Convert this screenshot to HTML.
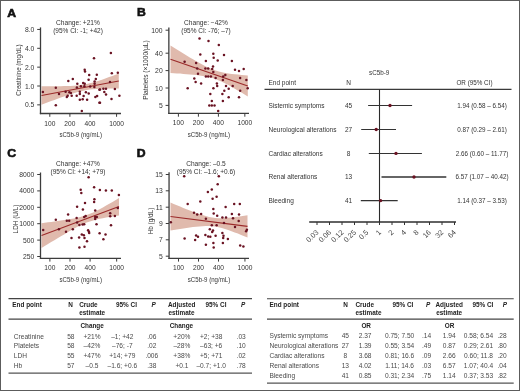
<!DOCTYPE html>
<html><head><meta charset="utf-8"><style>
html,body{margin:0;padding:0;background:#fff;width:520px;height:391px;overflow:hidden}
svg{display:block;will-change:transform;font-family:"Liberation Sans", sans-serif}
</style></head><body>
<svg width="520" height="391" viewBox="0 0 520 391" font-family='"Liberation Sans", sans-serif'>
<rect width="520" height="391" fill="#fff"/>
<text transform="translate(7.20,16.50) scale(1.08,1)" font-size="11.3" text-anchor="start" font-weight="bold" fill="#111" stroke="#111" stroke-width="0.6">A</text>
<polygon points="41.5,86.3 44.7,86.3 47.9,86.3 51.2,86.3 54.4,86.3 57.6,86.2 60.8,86.2 64.0,86.1 67.3,86.0 70.5,85.9 73.7,85.7 76.9,85.4 80.2,85.1 83.4,84.6 86.6,84.0 89.8,83.3 93.0,82.4 96.3,81.5 99.5,80.5 102.7,79.4 105.9,78.3 109.1,77.1 112.4,76.0 115.6,74.8 118.8,73.6 118.8,88.4 115.6,88.4 112.4,88.4 109.1,88.5 105.9,88.6 102.7,88.7 99.5,88.8 96.3,89.0 93.0,89.2 89.8,89.6 86.6,90.1 83.4,90.7 80.2,91.4 76.9,92.3 73.7,93.2 70.5,94.2 67.3,95.3 64.0,96.4 60.8,97.6 57.6,98.7 54.4,99.9 51.2,101.1 47.9,102.3 44.7,103.5 41.5,104.7" fill="#e0baad"/>
<line x1="41.5" y1="95.5" x2="118.8" y2="81" stroke="#9b2a2a" stroke-width="1.1"/>
<circle cx="110.9" cy="53.0" r="1.25" fill="#6a1222"/>
<circle cx="94.0" cy="58.3" r="1.25" fill="#6a1222"/>
<circle cx="84.7" cy="69.8" r="1.25" fill="#6a1222"/>
<circle cx="85.0" cy="71.5" r="1.25" fill="#6a1222"/>
<circle cx="89.2" cy="75.0" r="1.25" fill="#6a1222"/>
<circle cx="96.8" cy="74.8" r="1.25" fill="#6a1222"/>
<circle cx="111.8" cy="73.2" r="1.25" fill="#6a1222"/>
<circle cx="117.8" cy="72.8" r="1.25" fill="#6a1222"/>
<circle cx="72.8" cy="79.0" r="1.25" fill="#6a1222"/>
<circle cx="68.3" cy="81.1" r="1.25" fill="#6a1222"/>
<circle cx="88.6" cy="79.8" r="1.25" fill="#6a1222"/>
<circle cx="95.8" cy="79.0" r="1.25" fill="#6a1222"/>
<circle cx="94.6" cy="81.4" r="1.25" fill="#6a1222"/>
<circle cx="77.3" cy="83.7" r="1.25" fill="#6a1222"/>
<circle cx="83.2" cy="82.9" r="1.25" fill="#6a1222"/>
<circle cx="84.7" cy="83.7" r="1.25" fill="#6a1222"/>
<circle cx="94.6" cy="83.7" r="1.25" fill="#6a1222"/>
<circle cx="110.0" cy="82.0" r="1.25" fill="#6a1222"/>
<circle cx="42.9" cy="92.1" r="1.25" fill="#6a1222"/>
<circle cx="55.8" cy="87.7" r="1.25" fill="#6a1222"/>
<circle cx="59.0" cy="94.0" r="1.25" fill="#6a1222"/>
<circle cx="55.8" cy="105.2" r="1.25" fill="#6a1222"/>
<circle cx="66.8" cy="96.9" r="1.25" fill="#6a1222"/>
<circle cx="67.7" cy="95.8" r="1.25" fill="#6a1222"/>
<circle cx="65.6" cy="91.7" r="1.25" fill="#6a1222"/>
<circle cx="69.4" cy="92.3" r="1.25" fill="#6a1222"/>
<circle cx="70.9" cy="92.9" r="1.25" fill="#6a1222"/>
<circle cx="71.7" cy="95.8" r="1.25" fill="#6a1222"/>
<circle cx="76.9" cy="87.5" r="1.25" fill="#6a1222"/>
<circle cx="76.7" cy="95.8" r="1.25" fill="#6a1222"/>
<circle cx="80.9" cy="86.3" r="1.25" fill="#6a1222"/>
<circle cx="79.8" cy="91.7" r="1.25" fill="#6a1222"/>
<circle cx="79.8" cy="94.0" r="1.25" fill="#6a1222"/>
<circle cx="84.4" cy="86.3" r="1.25" fill="#6a1222"/>
<circle cx="83.6" cy="96.0" r="1.25" fill="#6a1222"/>
<circle cx="79.8" cy="99.8" r="1.25" fill="#6a1222"/>
<circle cx="82.7" cy="99.2" r="1.25" fill="#6a1222"/>
<circle cx="85.9" cy="92.3" r="1.25" fill="#6a1222"/>
<circle cx="87.1" cy="99.8" r="1.25" fill="#6a1222"/>
<circle cx="88.7" cy="93.5" r="1.25" fill="#6a1222"/>
<circle cx="90.2" cy="86.5" r="1.25" fill="#6a1222"/>
<circle cx="94.4" cy="87.1" r="1.25" fill="#6a1222"/>
<circle cx="95.4" cy="96.9" r="1.25" fill="#6a1222"/>
<circle cx="97.1" cy="96.0" r="1.25" fill="#6a1222"/>
<circle cx="99.4" cy="89.8" r="1.25" fill="#6a1222"/>
<circle cx="99.4" cy="102.7" r="1.25" fill="#6a1222"/>
<circle cx="81.8" cy="111.0" r="1.25" fill="#6a1222"/>
<circle cx="100.0" cy="89.6" r="1.25" fill="#6a1222"/>
<circle cx="103.4" cy="88.7" r="1.25" fill="#6a1222"/>
<circle cx="106.0" cy="88.7" r="1.25" fill="#6a1222"/>
<circle cx="104.3" cy="92.1" r="1.25" fill="#6a1222"/>
<circle cx="106.0" cy="94.4" r="1.25" fill="#6a1222"/>
<circle cx="114.9" cy="88.9" r="1.25" fill="#6a1222"/>
<circle cx="111.5" cy="98.9" r="1.25" fill="#6a1222"/>
<circle cx="119.4" cy="95.7" r="1.25" fill="#6a1222"/>
<circle cx="100.0" cy="102.7" r="1.25" fill="#6a1222"/>
<line x1="40.5" y1="27.4" x2="40.5" y2="114.15" stroke="#3c3c3c" stroke-width="1.3"/>
<line x1="39.85" y1="113.5" x2="121" y2="113.5" stroke="#3c3c3c" stroke-width="1.3"/>
<line x1="37.2" y1="29.45" x2="40.5" y2="29.45" stroke="#3c3c3c" stroke-width="1.0"/>
<text transform="translate(34.30,31.95) scale(0.97,1)" font-size="7.0" text-anchor="end" font-weight="normal" fill="#333" >8.0</text>
<line x1="37.2" y1="48.3" x2="40.5" y2="48.3" stroke="#3c3c3c" stroke-width="1.0"/>
<text transform="translate(34.30,50.80) scale(0.97,1)" font-size="7.0" text-anchor="end" font-weight="normal" fill="#333" >4.0</text>
<line x1="37.2" y1="67.15" x2="40.5" y2="67.15" stroke="#3c3c3c" stroke-width="1.0"/>
<text transform="translate(34.30,69.65) scale(0.97,1)" font-size="7.0" text-anchor="end" font-weight="normal" fill="#333" >2.0</text>
<line x1="37.2" y1="86" x2="40.5" y2="86" stroke="#3c3c3c" stroke-width="1.0"/>
<text transform="translate(34.30,88.50) scale(0.97,1)" font-size="7.0" text-anchor="end" font-weight="normal" fill="#333" >1.0</text>
<line x1="37.2" y1="104.85" x2="40.5" y2="104.85" stroke="#3c3c3c" stroke-width="1.0"/>
<text transform="translate(34.30,107.35) scale(0.97,1)" font-size="7.0" text-anchor="end" font-weight="normal" fill="#333" >0.5</text>
<line x1="49.8" y1="113.5" x2="49.8" y2="116.8" stroke="#3c3c3c" stroke-width="1.0"/>
<text transform="translate(49.80,125.50) scale(0.95,1)" font-size="7.0" text-anchor="middle" font-weight="normal" fill="#333" >100</text>
<line x1="69.9" y1="113.5" x2="69.9" y2="116.8" stroke="#3c3c3c" stroke-width="1.0"/>
<text transform="translate(69.90,125.50) scale(0.95,1)" font-size="7.0" text-anchor="middle" font-weight="normal" fill="#333" >200</text>
<line x1="90.0" y1="113.5" x2="90.0" y2="116.8" stroke="#3c3c3c" stroke-width="1.0"/>
<text transform="translate(90.00,125.50) scale(0.95,1)" font-size="7.0" text-anchor="middle" font-weight="normal" fill="#333" >400</text>
<line x1="116.57075470723598" y1="113.5" x2="116.57075470723598" y2="116.8" stroke="#3c3c3c" stroke-width="1.0"/>
<text transform="translate(116.57,125.50) scale(0.95,1)" font-size="7.0" text-anchor="middle" font-weight="normal" fill="#333" >1000</text>
<text transform="translate(80.75,137.20) scale(0.9,1)" font-size="6.8" text-anchor="middle" font-weight="normal" fill="#333" >sC5b-9 (ng/mL)</text>
<text transform="translate(20.6,70) rotate(-90) scale(0.9,1)" x="0" y="0" font-size="6.9" text-anchor="middle" fill="#333">Creatinine (mg/dL)</text>
<text x="78" y="25.4" font-size="6.6" text-anchor="middle" font-weight="normal" fill="#333" >Change: +21%</text>
<text x="78" y="33.4" font-size="6.5" text-anchor="middle" font-weight="normal" fill="#333" >(95% CI: -1; +42)</text>
<text transform="translate(137.00,16.30) scale(1.08,1)" font-size="11.3" text-anchor="start" font-weight="bold" fill="#111" stroke="#111" stroke-width="0.6">B</text>
<polygon points="170.5,45.5 173.7,47.5 176.9,49.5 180.2,51.5 183.4,53.4 186.6,55.4 189.8,57.4 193.0,59.3 196.3,61.2 199.5,63.0 202.7,64.8 205.9,66.4 209.2,68.0 212.4,69.3 215.6,70.5 218.8,71.5 222.0,72.3 225.3,72.9 228.5,73.5 231.7,73.9 234.9,74.3 238.1,74.6 241.4,74.9 244.6,75.2 247.8,75.5 247.8,96.5 244.6,94.6 241.4,92.6 238.1,90.7 234.9,88.8 231.7,86.9 228.5,85.1 225.3,83.4 222.0,81.8 218.8,80.4 215.6,79.1 212.4,78.1 209.2,77.2 205.9,76.5 202.7,76.0 199.5,75.5 196.3,75.1 193.0,74.8 189.8,74.4 186.6,74.2 183.4,73.9 180.2,73.6 176.9,73.4 173.7,73.2 170.5,72.9" fill="#e0baad"/>
<line x1="170.5" y1="59.2" x2="247.8" y2="86" stroke="#9b2a2a" stroke-width="1.1"/>
<circle cx="199.5" cy="38.5" r="1.25" fill="#6a1222"/>
<circle cx="208.5" cy="40.9" r="1.25" fill="#6a1222"/>
<circle cx="218.8" cy="45.1" r="1.25" fill="#6a1222"/>
<circle cx="200.3" cy="54.6" r="1.25" fill="#6a1222"/>
<circle cx="213.3" cy="53.8" r="1.25" fill="#6a1222"/>
<circle cx="213.7" cy="57.8" r="1.25" fill="#6a1222"/>
<circle cx="224.0" cy="54.9" r="1.25" fill="#6a1222"/>
<circle cx="205.9" cy="60.9" r="1.25" fill="#6a1222"/>
<circle cx="217.7" cy="60.6" r="1.25" fill="#6a1222"/>
<circle cx="231.9" cy="60.9" r="1.25" fill="#6a1222"/>
<circle cx="184.6" cy="61.7" r="1.25" fill="#6a1222"/>
<circle cx="196.1" cy="63.0" r="1.25" fill="#6a1222"/>
<circle cx="213.0" cy="66.4" r="1.25" fill="#6a1222"/>
<circle cx="197.2" cy="68.5" r="1.25" fill="#6a1222"/>
<circle cx="205.4" cy="68.5" r="1.25" fill="#6a1222"/>
<circle cx="208.2" cy="68.5" r="1.25" fill="#6a1222"/>
<circle cx="212.2" cy="68.9" r="1.25" fill="#6a1222"/>
<circle cx="235.0" cy="69.7" r="1.25" fill="#6a1222"/>
<circle cx="239.0" cy="71.0" r="1.25" fill="#6a1222"/>
<circle cx="243.7" cy="68.9" r="1.25" fill="#6a1222"/>
<circle cx="198.0" cy="73.7" r="1.25" fill="#6a1222"/>
<circle cx="213.3" cy="72.1" r="1.25" fill="#6a1222"/>
<circle cx="205.9" cy="76.5" r="1.25" fill="#6a1222"/>
<circle cx="208.2" cy="76.5" r="1.25" fill="#6a1222"/>
<circle cx="210.9" cy="76.5" r="1.25" fill="#6a1222"/>
<circle cx="215.6" cy="78.1" r="1.25" fill="#6a1222"/>
<circle cx="223.2" cy="76.5" r="1.25" fill="#6a1222"/>
<circle cx="225.3" cy="74.9" r="1.25" fill="#6a1222"/>
<circle cx="222.9" cy="80.0" r="1.25" fill="#6a1222"/>
<circle cx="240.1" cy="78.1" r="1.25" fill="#6a1222"/>
<circle cx="246.4" cy="80.0" r="1.25" fill="#6a1222"/>
<circle cx="194.3" cy="78.4" r="1.25" fill="#6a1222"/>
<circle cx="195.6" cy="81.9" r="1.25" fill="#6a1222"/>
<circle cx="201.1" cy="83.6" r="1.25" fill="#6a1222"/>
<circle cx="187.7" cy="88.2" r="1.25" fill="#6a1222"/>
<circle cx="216.9" cy="83.6" r="1.25" fill="#6a1222"/>
<circle cx="217.2" cy="86.0" r="1.25" fill="#6a1222"/>
<circle cx="226.0" cy="86.0" r="1.25" fill="#6a1222"/>
<circle cx="232.7" cy="86.0" r="1.25" fill="#6a1222"/>
<circle cx="213.4" cy="88.3" r="1.25" fill="#6a1222"/>
<circle cx="228.7" cy="88.7" r="1.25" fill="#6a1222"/>
<circle cx="224.3" cy="90.7" r="1.25" fill="#6a1222"/>
<circle cx="247.7" cy="88.3" r="1.25" fill="#6a1222"/>
<circle cx="240.2" cy="90.7" r="1.25" fill="#6a1222"/>
<circle cx="210.3" cy="93.9" r="1.25" fill="#6a1222"/>
<circle cx="222.4" cy="93.9" r="1.25" fill="#6a1222"/>
<circle cx="228.7" cy="97.3" r="1.25" fill="#6a1222"/>
<circle cx="239.0" cy="97.3" r="1.25" fill="#6a1222"/>
<circle cx="211.8" cy="101.0" r="1.25" fill="#6a1222"/>
<circle cx="222.9" cy="101.0" r="1.25" fill="#6a1222"/>
<circle cx="209.3" cy="105.5" r="1.25" fill="#6a1222"/>
<circle cx="211.8" cy="105.5" r="1.25" fill="#6a1222"/>
<circle cx="214.5" cy="105.5" r="1.25" fill="#6a1222"/>
<circle cx="218.2" cy="111.0" r="1.25" fill="#6a1222"/>
<line x1="168.85" y1="27.6" x2="168.85" y2="114.05000000000001" stroke="#3c3c3c" stroke-width="1.3"/>
<line x1="168.2" y1="113.4" x2="249" y2="113.4" stroke="#3c3c3c" stroke-width="1.3"/>
<line x1="165.54999999999998" y1="30.2" x2="168.85" y2="30.2" stroke="#3c3c3c" stroke-width="1.0"/>
<text transform="translate(162.65,32.70) scale(0.97,1)" font-size="7.0" text-anchor="end" font-weight="normal" fill="#333" >100</text>
<line x1="165.54999999999998" y1="53.2" x2="168.85" y2="53.2" stroke="#3c3c3c" stroke-width="1.0"/>
<text transform="translate(162.65,55.70) scale(0.97,1)" font-size="7.0" text-anchor="end" font-weight="normal" fill="#333" >40</text>
<line x1="165.54999999999998" y1="70.6" x2="168.85" y2="70.6" stroke="#3c3c3c" stroke-width="1.0"/>
<text transform="translate(162.65,73.10) scale(0.97,1)" font-size="7.0" text-anchor="end" font-weight="normal" fill="#333" >20</text>
<line x1="165.54999999999998" y1="88" x2="168.85" y2="88" stroke="#3c3c3c" stroke-width="1.0"/>
<text transform="translate(162.65,90.50) scale(0.97,1)" font-size="7.0" text-anchor="end" font-weight="normal" fill="#333" >10</text>
<line x1="165.54999999999998" y1="105.4" x2="168.85" y2="105.4" stroke="#3c3c3c" stroke-width="1.0"/>
<text transform="translate(162.65,107.90) scale(0.97,1)" font-size="7.0" text-anchor="end" font-weight="normal" fill="#333" >5</text>
<line x1="178.4" y1="113.4" x2="178.4" y2="116.7" stroke="#3c3c3c" stroke-width="1.0"/>
<text transform="translate(178.40,125.40) scale(0.95,1)" font-size="7.0" text-anchor="middle" font-weight="normal" fill="#333" >100</text>
<line x1="198.4" y1="113.4" x2="198.4" y2="116.7" stroke="#3c3c3c" stroke-width="1.0"/>
<text transform="translate(198.40,125.40) scale(0.95,1)" font-size="7.0" text-anchor="middle" font-weight="normal" fill="#333" >200</text>
<line x1="218.4" y1="113.4" x2="218.4" y2="116.7" stroke="#3c3c3c" stroke-width="1.0"/>
<text transform="translate(218.40,125.40) scale(0.95,1)" font-size="7.0" text-anchor="middle" font-weight="normal" fill="#333" >400</text>
<line x1="244.83856189774724" y1="113.4" x2="244.83856189774724" y2="116.7" stroke="#3c3c3c" stroke-width="1.0"/>
<text transform="translate(244.84,125.40) scale(0.95,1)" font-size="7.0" text-anchor="middle" font-weight="normal" fill="#333" >1000</text>
<text transform="translate(208.93,137.10) scale(0.9,1)" font-size="6.8" text-anchor="middle" font-weight="normal" fill="#333" >sC5b-9 (ng/mL)</text>
<text transform="translate(148.4,70.1) rotate(-90) scale(0.96,1)" x="0" y="0" font-size="6.9" text-anchor="middle" fill="#333">Platelets (×1000/µL)</text>
<text x="206" y="25.4" font-size="6.6" text-anchor="middle" font-weight="normal" fill="#333" >Change: −42%</text>
<text x="206" y="33.4" font-size="6.5" text-anchor="middle" font-weight="normal" fill="#333" >(95% CI: -76; –7)</text>
<text transform="translate(7.20,157.00) scale(1.08,1)" font-size="11.3" text-anchor="start" font-weight="bold" fill="#111" stroke="#111" stroke-width="0.6">C</text>
<polygon points="41.5,223.2 44.7,222.7 48.0,222.3 51.2,221.9 54.4,221.4 57.6,221.0 60.9,220.5 64.1,220.0 67.3,219.5 70.6,219.0 73.8,218.4 77.0,217.7 80.2,216.9 83.5,216.0 86.7,215.0 89.9,213.8 93.2,212.4 96.4,210.8 99.6,209.2 102.9,207.4 106.1,205.6 109.3,203.8 112.5,201.9 115.8,200.0 119.0,198.0 119.0,215.6 115.8,216.0 112.5,216.5 109.3,217.0 106.1,217.6 102.9,218.2 99.6,218.8 96.4,219.6 93.2,220.4 89.9,221.4 86.7,222.6 83.5,224.0 80.2,225.5 77.0,227.1 73.8,228.8 70.6,230.6 67.3,232.5 64.1,234.4 60.9,236.3 57.6,238.2 54.4,240.2 51.2,242.1 48.0,244.1 44.7,246.1 41.5,248.0" fill="#e0baad"/>
<line x1="41.5" y1="235.6" x2="119" y2="206.6" stroke="#9b2a2a" stroke-width="1.1"/>
<circle cx="88.6" cy="177.2" r="1.25" fill="#6a1222"/>
<circle cx="94.1" cy="187.3" r="1.25" fill="#6a1222"/>
<circle cx="99.9" cy="190.1" r="1.25" fill="#6a1222"/>
<circle cx="105.9" cy="190.6" r="1.25" fill="#6a1222"/>
<circle cx="111.8" cy="190.5" r="1.25" fill="#6a1222"/>
<circle cx="118.9" cy="194.9" r="1.25" fill="#6a1222"/>
<circle cx="80.7" cy="189.8" r="1.25" fill="#6a1222"/>
<circle cx="81.3" cy="193.0" r="1.25" fill="#6a1222"/>
<circle cx="94.4" cy="199.3" r="1.25" fill="#6a1222"/>
<circle cx="94.1" cy="202.0" r="1.25" fill="#6a1222"/>
<circle cx="85.0" cy="203.1" r="1.25" fill="#6a1222"/>
<circle cx="77.1" cy="206.7" r="1.25" fill="#6a1222"/>
<circle cx="82.9" cy="209.4" r="1.25" fill="#6a1222"/>
<circle cx="95.2" cy="210.6" r="1.25" fill="#6a1222"/>
<circle cx="117.8" cy="208.0" r="1.25" fill="#6a1222"/>
<circle cx="68.1" cy="214.4" r="1.25" fill="#6a1222"/>
<circle cx="55.8" cy="219.8" r="1.25" fill="#6a1222"/>
<circle cx="76.6" cy="217.9" r="1.25" fill="#6a1222"/>
<circle cx="84.2" cy="217.1" r="1.25" fill="#6a1222"/>
<circle cx="85.7" cy="216.0" r="1.25" fill="#6a1222"/>
<circle cx="95.2" cy="217.1" r="1.25" fill="#6a1222"/>
<circle cx="96.8" cy="217.1" r="1.25" fill="#6a1222"/>
<circle cx="95.2" cy="219.1" r="1.25" fill="#6a1222"/>
<circle cx="110.2" cy="213.2" r="1.25" fill="#6a1222"/>
<circle cx="110.2" cy="216.3" r="1.25" fill="#6a1222"/>
<circle cx="114.9" cy="216.0" r="1.25" fill="#6a1222"/>
<circle cx="66.8" cy="220.7" r="1.25" fill="#6a1222"/>
<circle cx="69.2" cy="220.7" r="1.25" fill="#6a1222"/>
<circle cx="77.1" cy="222.6" r="1.25" fill="#6a1222"/>
<circle cx="79.4" cy="225.0" r="1.25" fill="#6a1222"/>
<circle cx="82.6" cy="224.5" r="1.25" fill="#6a1222"/>
<circle cx="84.2" cy="224.2" r="1.25" fill="#6a1222"/>
<circle cx="96.5" cy="224.2" r="1.25" fill="#6a1222"/>
<circle cx="111.0" cy="225.3" r="1.25" fill="#6a1222"/>
<circle cx="43.2" cy="230.0" r="1.25" fill="#6a1222"/>
<circle cx="58.9" cy="229.2" r="1.25" fill="#6a1222"/>
<circle cx="66.0" cy="231.8" r="1.25" fill="#6a1222"/>
<circle cx="72.8" cy="229.2" r="1.25" fill="#6a1222"/>
<circle cx="88.1" cy="230.2" r="1.25" fill="#6a1222"/>
<circle cx="88.9" cy="231.8" r="1.25" fill="#6a1222"/>
<circle cx="89.2" cy="232.9" r="1.25" fill="#6a1222"/>
<circle cx="81.8" cy="234.4" r="1.25" fill="#6a1222"/>
<circle cx="83.8" cy="235.2" r="1.25" fill="#6a1222"/>
<circle cx="99.6" cy="233.3" r="1.25" fill="#6a1222"/>
<circle cx="105.5" cy="234.4" r="1.25" fill="#6a1222"/>
<circle cx="71.5" cy="238.1" r="1.25" fill="#6a1222"/>
<circle cx="79.1" cy="237.6" r="1.25" fill="#6a1222"/>
<circle cx="84.5" cy="238.1" r="1.25" fill="#6a1222"/>
<circle cx="87.0" cy="241.2" r="1.25" fill="#6a1222"/>
<circle cx="103.4" cy="239.2" r="1.25" fill="#6a1222"/>
<circle cx="79.4" cy="247.5" r="1.25" fill="#6a1222"/>
<circle cx="84.5" cy="246.8" r="1.25" fill="#6a1222"/>
<line x1="40.5" y1="172.5" x2="40.5" y2="258.95" stroke="#3c3c3c" stroke-width="1.3"/>
<line x1="39.85" y1="258.3" x2="121" y2="258.3" stroke="#3c3c3c" stroke-width="1.3"/>
<line x1="37.2" y1="174.5" x2="40.5" y2="174.5" stroke="#3c3c3c" stroke-width="1.0"/>
<text transform="translate(34.30,177.00) scale(0.97,1)" font-size="7.0" text-anchor="end" font-weight="normal" fill="#333" >8000</text>
<line x1="37.2" y1="190.9" x2="40.5" y2="190.9" stroke="#3c3c3c" stroke-width="1.0"/>
<text transform="translate(34.30,193.40) scale(0.97,1)" font-size="7.0" text-anchor="end" font-weight="normal" fill="#333" >4000</text>
<line x1="37.2" y1="207.3" x2="40.5" y2="207.3" stroke="#3c3c3c" stroke-width="1.0"/>
<text transform="translate(34.30,209.80) scale(0.97,1)" font-size="7.0" text-anchor="end" font-weight="normal" fill="#333" >2000</text>
<line x1="37.2" y1="223.7" x2="40.5" y2="223.7" stroke="#3c3c3c" stroke-width="1.0"/>
<text transform="translate(34.30,226.20) scale(0.97,1)" font-size="7.0" text-anchor="end" font-weight="normal" fill="#333" >1000</text>
<line x1="37.2" y1="240.1" x2="40.5" y2="240.1" stroke="#3c3c3c" stroke-width="1.0"/>
<text transform="translate(34.30,242.60) scale(0.97,1)" font-size="7.0" text-anchor="end" font-weight="normal" fill="#333" >500</text>
<line x1="37.2" y1="256.5" x2="40.5" y2="256.5" stroke="#3c3c3c" stroke-width="1.0"/>
<text transform="translate(34.30,259.00) scale(0.97,1)" font-size="7.0" text-anchor="end" font-weight="normal" fill="#333" >250</text>
<line x1="49.9" y1="258.3" x2="49.9" y2="261.6" stroke="#3c3c3c" stroke-width="1.0"/>
<text transform="translate(49.90,270.30) scale(0.95,1)" font-size="7.0" text-anchor="middle" font-weight="normal" fill="#333" >100</text>
<line x1="70.0" y1="258.3" x2="70.0" y2="261.6" stroke="#3c3c3c" stroke-width="1.0"/>
<text transform="translate(70.00,270.30) scale(0.95,1)" font-size="7.0" text-anchor="middle" font-weight="normal" fill="#333" >200</text>
<line x1="90.1" y1="258.3" x2="90.1" y2="261.6" stroke="#3c3c3c" stroke-width="1.0"/>
<text transform="translate(90.10,270.30) scale(0.95,1)" font-size="7.0" text-anchor="middle" font-weight="normal" fill="#333" >400</text>
<line x1="116.67075470723597" y1="258.3" x2="116.67075470723597" y2="261.6" stroke="#3c3c3c" stroke-width="1.0"/>
<text transform="translate(116.67,270.30) scale(0.95,1)" font-size="7.0" text-anchor="middle" font-weight="normal" fill="#333" >1000</text>
<text transform="translate(80.75,282.00) scale(0.9,1)" font-size="6.8" text-anchor="middle" font-weight="normal" fill="#333" >sC5b-9 (ng/mL)</text>
<text transform="translate(18.0,219) rotate(-90) scale(0.93,1)" x="0" y="0" font-size="6.9" text-anchor="middle" fill="#333">LDH (U/L)</text>
<text x="78" y="165.6" font-size="6.6" text-anchor="middle" font-weight="normal" fill="#333" >Change: +47%</text>
<text x="78" y="173.6" font-size="6.5" text-anchor="middle" font-weight="normal" fill="#333" >(95% CI: +14; +79)</text>
<text transform="translate(136.80,156.70) scale(1.08,1)" font-size="11.3" text-anchor="start" font-weight="bold" fill="#111" stroke="#111" stroke-width="0.6">D</text>
<polygon points="170.5,202.6 173.7,203.9 176.9,205.2 180.1,206.6 183.3,207.9 186.5,209.2 189.8,210.4 193.0,211.7 196.2,212.9 199.4,214.0 202.6,215.1 205.8,216.1 209.0,216.9 212.2,217.5 215.4,218.0 218.6,218.2 221.8,218.2 225.0,218.1 228.2,217.8 231.5,217.5 234.7,217.1 237.9,216.7 241.1,216.3 244.3,215.8 247.5,215.3 247.5,237.5 244.3,236.2 241.1,234.9 237.9,233.6 234.7,232.4 231.5,231.2 228.2,230.0 225.0,229.0 221.8,228.0 218.6,227.2 215.4,226.6 212.2,226.2 209.0,226.0 205.8,226.0 202.6,226.2 199.4,226.4 196.2,226.7 193.0,227.1 189.8,227.5 186.5,228.0 183.3,228.4 180.1,228.9 176.9,229.4 173.7,229.9 170.5,230.4" fill="#e0baad"/>
<line x1="170.5" y1="216.5" x2="247.5" y2="226.4" stroke="#9b2a2a" stroke-width="1.1"/>
<circle cx="184.2" cy="176.3" r="1.25" fill="#6a1222"/>
<circle cx="218.8" cy="176.3" r="1.25" fill="#6a1222"/>
<circle cx="217.7" cy="184.3" r="1.25" fill="#6a1222"/>
<circle cx="211.8" cy="189.4" r="1.25" fill="#6a1222"/>
<circle cx="207.9" cy="192.0" r="1.25" fill="#6a1222"/>
<circle cx="216.6" cy="196.8" r="1.25" fill="#6a1222"/>
<circle cx="212.6" cy="198.8" r="1.25" fill="#6a1222"/>
<circle cx="200.3" cy="201.5" r="1.25" fill="#6a1222"/>
<circle cx="187.7" cy="204.0" r="1.25" fill="#6a1222"/>
<circle cx="225.6" cy="207.0" r="1.25" fill="#6a1222"/>
<circle cx="234.2" cy="204.0" r="1.25" fill="#6a1222"/>
<circle cx="239.8" cy="204.0" r="1.25" fill="#6a1222"/>
<circle cx="213.3" cy="209.1" r="1.25" fill="#6a1222"/>
<circle cx="194.0" cy="212.8" r="1.25" fill="#6a1222"/>
<circle cx="197.2" cy="214.4" r="1.25" fill="#6a1222"/>
<circle cx="201.1" cy="213.9" r="1.25" fill="#6a1222"/>
<circle cx="213.7" cy="213.5" r="1.25" fill="#6a1222"/>
<circle cx="217.2" cy="215.8" r="1.25" fill="#6a1222"/>
<circle cx="222.4" cy="217.4" r="1.25" fill="#6a1222"/>
<circle cx="226.0" cy="217.4" r="1.25" fill="#6a1222"/>
<circle cx="231.9" cy="213.9" r="1.25" fill="#6a1222"/>
<circle cx="233.0" cy="218.2" r="1.25" fill="#6a1222"/>
<circle cx="239.0" cy="214.4" r="1.25" fill="#6a1222"/>
<circle cx="205.9" cy="218.7" r="1.25" fill="#6a1222"/>
<circle cx="170.8" cy="222.3" r="1.25" fill="#6a1222"/>
<circle cx="238.7" cy="221.0" r="1.25" fill="#6a1222"/>
<circle cx="224.0" cy="222.9" r="1.25" fill="#6a1222"/>
<circle cx="211.8" cy="225.3" r="1.25" fill="#6a1222"/>
<circle cx="216.6" cy="225.3" r="1.25" fill="#6a1222"/>
<circle cx="235.0" cy="227.0" r="1.25" fill="#6a1222"/>
<circle cx="209.8" cy="229.2" r="1.25" fill="#6a1222"/>
<circle cx="213.0" cy="230.5" r="1.25" fill="#6a1222"/>
<circle cx="212.2" cy="232.1" r="1.25" fill="#6a1222"/>
<circle cx="246.9" cy="229.7" r="1.25" fill="#6a1222"/>
<circle cx="246.1" cy="231.3" r="1.25" fill="#6a1222"/>
<circle cx="222.4" cy="232.9" r="1.25" fill="#6a1222"/>
<circle cx="196.1" cy="235.6" r="1.25" fill="#6a1222"/>
<circle cx="198.0" cy="236.8" r="1.25" fill="#6a1222"/>
<circle cx="205.4" cy="234.9" r="1.25" fill="#6a1222"/>
<circle cx="208.2" cy="236.5" r="1.25" fill="#6a1222"/>
<circle cx="210.3" cy="236.8" r="1.25" fill="#6a1222"/>
<circle cx="215.6" cy="235.7" r="1.25" fill="#6a1222"/>
<circle cx="223.5" cy="235.7" r="1.25" fill="#6a1222"/>
<circle cx="223.2" cy="237.9" r="1.25" fill="#6a1222"/>
<circle cx="227.9" cy="238.9" r="1.25" fill="#6a1222"/>
<circle cx="184.6" cy="238.4" r="1.25" fill="#6a1222"/>
<circle cx="195.1" cy="240.0" r="1.25" fill="#6a1222"/>
<circle cx="213.4" cy="243.1" r="1.25" fill="#6a1222"/>
<circle cx="222.9" cy="243.1" r="1.25" fill="#6a1222"/>
<circle cx="205.9" cy="244.7" r="1.25" fill="#6a1222"/>
<circle cx="213.7" cy="247.4" r="1.25" fill="#6a1222"/>
<circle cx="240.2" cy="245.5" r="1.25" fill="#6a1222"/>
<circle cx="243.4" cy="246.6" r="1.25" fill="#6a1222"/>
<line x1="169.05" y1="172.3" x2="169.05" y2="258.95" stroke="#3c3c3c" stroke-width="1.3"/>
<line x1="168.4" y1="258.3" x2="249" y2="258.3" stroke="#3c3c3c" stroke-width="1.3"/>
<line x1="165.75" y1="174.5" x2="169.05" y2="174.5" stroke="#3c3c3c" stroke-width="1.0"/>
<text transform="translate(162.85,177.00) scale(0.97,1)" font-size="7.0" text-anchor="end" font-weight="normal" fill="#333" >15</text>
<line x1="165.75" y1="190.8" x2="169.05" y2="190.8" stroke="#3c3c3c" stroke-width="1.0"/>
<text transform="translate(162.85,193.30) scale(0.97,1)" font-size="7.0" text-anchor="end" font-weight="normal" fill="#333" >13</text>
<line x1="165.75" y1="207.2" x2="169.05" y2="207.2" stroke="#3c3c3c" stroke-width="1.0"/>
<text transform="translate(162.85,209.70) scale(0.97,1)" font-size="7.0" text-anchor="end" font-weight="normal" fill="#333" >11</text>
<line x1="165.75" y1="223.5" x2="169.05" y2="223.5" stroke="#3c3c3c" stroke-width="1.0"/>
<text transform="translate(162.85,226.00) scale(0.97,1)" font-size="7.0" text-anchor="end" font-weight="normal" fill="#333" >9</text>
<line x1="165.75" y1="239.8" x2="169.05" y2="239.8" stroke="#3c3c3c" stroke-width="1.0"/>
<text transform="translate(162.85,242.30) scale(0.97,1)" font-size="7.0" text-anchor="end" font-weight="normal" fill="#333" >7</text>
<line x1="165.75" y1="256.2" x2="169.05" y2="256.2" stroke="#3c3c3c" stroke-width="1.0"/>
<text transform="translate(162.85,258.70) scale(0.97,1)" font-size="7.0" text-anchor="end" font-weight="normal" fill="#333" >5</text>
<line x1="178.5" y1="258.3" x2="178.5" y2="261.6" stroke="#3c3c3c" stroke-width="1.0"/>
<text transform="translate(178.50,270.30) scale(0.95,1)" font-size="7.0" text-anchor="middle" font-weight="normal" fill="#333" >100</text>
<line x1="198.5" y1="258.3" x2="198.5" y2="261.6" stroke="#3c3c3c" stroke-width="1.0"/>
<text transform="translate(198.50,270.30) scale(0.95,1)" font-size="7.0" text-anchor="middle" font-weight="normal" fill="#333" >200</text>
<line x1="218.5" y1="258.3" x2="218.5" y2="261.6" stroke="#3c3c3c" stroke-width="1.0"/>
<text transform="translate(218.50,270.30) scale(0.95,1)" font-size="7.0" text-anchor="middle" font-weight="normal" fill="#333" >400</text>
<line x1="244.93856189774726" y1="258.3" x2="244.93856189774726" y2="261.6" stroke="#3c3c3c" stroke-width="1.0"/>
<text transform="translate(244.94,270.30) scale(0.95,1)" font-size="7.0" text-anchor="middle" font-weight="normal" fill="#333" >1000</text>
<text transform="translate(209.03,282.00) scale(0.9,1)" font-size="6.8" text-anchor="middle" font-weight="normal" fill="#333" >sC5b-9 (ng/mL)</text>
<text transform="translate(152.5,221) rotate(-90) scale(0.93,1)" x="0" y="0" font-size="6.9" text-anchor="middle" fill="#333">Hb (g/dL)</text>
<text x="206" y="165.6" font-size="6.6" text-anchor="middle" font-weight="normal" fill="#333" >Change: –0.5</text>
<text x="206" y="173.6" font-size="6.5" text-anchor="middle" font-weight="normal" fill="#333" >(95% CI: –1.6; +0.6)</text>
<text x="379.2" y="74.6" font-size="6.3" text-anchor="middle" font-weight="normal" fill="#333" >sC5b-9</text>
<text x="268.5" y="84.6" font-size="6.5" text-anchor="start" font-weight="normal" fill="#333" >End point</text>
<text x="348.5" y="84.6" font-size="6.5" text-anchor="middle" font-weight="normal" fill="#333" >N</text>
<text x="474.5" y="84.6" font-size="6.3" text-anchor="middle" font-weight="normal" fill="#333" >OR (95% CI)</text>
<line x1="264.5" y1="89.4" x2="511.5" y2="89.4" stroke="#3a3a3a" stroke-width="1.2"/>
<line x1="379.5" y1="89.4" x2="379.5" y2="222" stroke="#2a2a2a" stroke-width="1.1"/>
<text x="268.5" y="107.7" font-size="6.5" text-anchor="start" font-weight="normal" fill="#333" >Sistemic symptoms</text>
<text x="348.5" y="107.7" font-size="6.5" text-anchor="middle" font-weight="normal" fill="#333" >45</text>
<line x1="368.1" y1="105.5" x2="412.1" y2="105.5" stroke="#333" stroke-width="1.05"/>
<circle cx="390" cy="105.5" r="1.7" fill="#6a1222"/>
<text x="482" y="107.7" font-size="6.3" text-anchor="middle" font-weight="normal" fill="#333" >1.94 (0.58 – 6.54)</text>
<text x="268.5" y="131.7" font-size="6.5" text-anchor="start" font-weight="normal" fill="#333" >Neurological alterations</text>
<text x="348.5" y="131.7" font-size="6.5" text-anchor="middle" font-weight="normal" fill="#333" >27</text>
<line x1="361.2" y1="129.5" x2="396" y2="129.5" stroke="#333" stroke-width="1.05"/>
<circle cx="376.2" cy="129.5" r="1.7" fill="#6a1222"/>
<text x="482" y="131.7" font-size="6.3" text-anchor="middle" font-weight="normal" fill="#333" >0.87 (0.29 – 2.61)</text>
<text x="268.5" y="155.6" font-size="6.5" text-anchor="start" font-weight="normal" fill="#333" >Cardiac alterations</text>
<text x="348.5" y="155.6" font-size="6.5" text-anchor="middle" font-weight="normal" fill="#333" >8</text>
<line x1="368.8" y1="153.4" x2="421.9" y2="153.4" stroke="#333" stroke-width="1.05"/>
<circle cx="396" cy="153.4" r="1.7" fill="#6a1222"/>
<text x="482" y="155.6" font-size="6.3" text-anchor="middle" font-weight="normal" fill="#333" >2.66 (0.60 – 11.77)</text>
<text x="268.5" y="179.2" font-size="6.5" text-anchor="start" font-weight="normal" fill="#333" >Renal alterations</text>
<text x="348.5" y="179.2" font-size="6.5" text-anchor="middle" font-weight="normal" fill="#333" >13</text>
<line x1="381.5" y1="177.0" x2="446.3" y2="177.0" stroke="#333" stroke-width="1.5"/>
<circle cx="414" cy="177.0" r="1.7" fill="#6a1222"/>
<text x="482" y="179.2" font-size="6.3" text-anchor="middle" font-weight="normal" fill="#333" >6.57 (1.07 – 40.42)</text>
<text x="268.5" y="202.79999999999998" font-size="6.5" text-anchor="start" font-weight="normal" fill="#333" >Bleeding</text>
<text x="348.5" y="202.79999999999998" font-size="6.5" text-anchor="middle" font-weight="normal" fill="#333" >41</text>
<line x1="360.8" y1="200.6" x2="397.7" y2="200.6" stroke="#333" stroke-width="1.05"/>
<circle cx="380.6" cy="200.6" r="1.7" fill="#6a1222"/>
<text x="482" y="202.79999999999998" font-size="6.3" text-anchor="middle" font-weight="normal" fill="#333" >1.14 (0.37 – 3.53)</text>
<line x1="309.2" y1="221.9" x2="456" y2="221.9" stroke="#2e2e2e" stroke-width="1.5"/>
<line x1="317.0" y1="222" x2="317.0" y2="225" stroke="#333" stroke-width="1.0"/>
<text transform="translate(319.0,232.8) rotate(-45)" x="0" y="0" font-size="7.3" text-anchor="end" fill="#444">0.03</text>
<line x1="329.5" y1="222" x2="329.5" y2="225" stroke="#333" stroke-width="1.0"/>
<text transform="translate(331.5,232.8) rotate(-45)" x="0" y="0" font-size="7.3" text-anchor="end" fill="#444">0.06</text>
<line x1="342.0" y1="222" x2="342.0" y2="225" stroke="#333" stroke-width="1.0"/>
<text transform="translate(344.0,232.8) rotate(-45)" x="0" y="0" font-size="7.3" text-anchor="end" fill="#444">0.12</text>
<line x1="354.5" y1="222" x2="354.5" y2="225" stroke="#333" stroke-width="1.0"/>
<text transform="translate(356.5,232.8) rotate(-45)" x="0" y="0" font-size="7.3" text-anchor="end" fill="#444">0.25</text>
<line x1="367.0" y1="222" x2="367.0" y2="225" stroke="#333" stroke-width="1.0"/>
<text transform="translate(369.0,232.8) rotate(-45)" x="0" y="0" font-size="7.3" text-anchor="end" fill="#444">0.5</text>
<line x1="379.5" y1="222" x2="379.5" y2="225" stroke="#333" stroke-width="1.0"/>
<text transform="translate(381.5,232.8) rotate(-45)" x="0" y="0" font-size="7.3" text-anchor="end" fill="#444">1</text>
<line x1="392.0" y1="222" x2="392.0" y2="225" stroke="#333" stroke-width="1.0"/>
<text transform="translate(394.0,232.8) rotate(-45)" x="0" y="0" font-size="7.3" text-anchor="end" fill="#444">2</text>
<line x1="404.5" y1="222" x2="404.5" y2="225" stroke="#333" stroke-width="1.0"/>
<text transform="translate(406.5,232.8) rotate(-45)" x="0" y="0" font-size="7.3" text-anchor="end" fill="#444">4</text>
<line x1="417.0" y1="222" x2="417.0" y2="225" stroke="#333" stroke-width="1.0"/>
<text transform="translate(419.0,232.8) rotate(-45)" x="0" y="0" font-size="7.3" text-anchor="end" fill="#444">8</text>
<line x1="429.5" y1="222" x2="429.5" y2="225" stroke="#333" stroke-width="1.0"/>
<text transform="translate(431.5,232.8) rotate(-45)" x="0" y="0" font-size="7.3" text-anchor="end" fill="#444">16</text>
<line x1="442.0" y1="222" x2="442.0" y2="225" stroke="#333" stroke-width="1.0"/>
<text transform="translate(444.0,232.8) rotate(-45)" x="0" y="0" font-size="7.3" text-anchor="end" fill="#444">32</text>
<line x1="454.5" y1="222" x2="454.5" y2="225" stroke="#333" stroke-width="1.0"/>
<text transform="translate(456.5,232.8) rotate(-45)" x="0" y="0" font-size="7.3" text-anchor="end" fill="#444">64</text>
<line x1="8.5" y1="298.6" x2="252" y2="298.6" stroke="#444" stroke-width="1.1"/>
<line x1="8.5" y1="319.1" x2="252" y2="319.1" stroke="#444" stroke-width="1.1"/>
<line x1="8.5" y1="373.1" x2="252" y2="373.1" stroke="#555" stroke-width="1.3"/>
<text x="12.3" y="307.3" font-size="6.4" text-anchor="start" font-weight="bold" fill="#222" >End point</text>
<text x="70.5" y="307.3" font-size="6.4" text-anchor="middle" font-weight="bold" fill="#222" >N</text>
<text x="79.2" y="307.3" font-size="6.4" text-anchor="start" font-weight="bold" fill="#222" >Crude</text>
<text x="79.2" y="314.9" font-size="6.4" text-anchor="start" font-weight="bold" fill="#222" >estimate</text>
<text x="126.5" y="307.3" font-size="6.4" text-anchor="middle" font-weight="bold" fill="#222" >95% CI</text>
<text x="153.7" y="307.3" font-size="6.4" text-anchor="middle" font-weight="bold" fill="#222" font-style="italic">P</text>
<text x="168" y="307.3" font-size="6.4" text-anchor="start" font-weight="bold" fill="#222" >Adjusted</text>
<text x="168.5" y="314.9" font-size="6.4" text-anchor="start" font-weight="bold" fill="#222" >estimate</text>
<text x="216" y="307.3" font-size="6.4" text-anchor="middle" font-weight="bold" fill="#222" >95% CI</text>
<text x="243.1" y="307.3" font-size="6.4" text-anchor="middle" font-weight="bold" fill="#222" font-style="italic">P</text>
<text x="92.1" y="328.4" font-size="6.4" text-anchor="middle" font-weight="bold" fill="#222" >Change</text>
<text x="181.4" y="328.4" font-size="6.4" text-anchor="middle" font-weight="bold" fill="#222" >Change</text>
<text x="13.8" y="338.5" font-size="6.6" text-anchor="start" font-weight="normal" fill="#4a4a4a" >Creatinine</text>
<text x="70.8" y="338.5" font-size="6.6" text-anchor="middle" font-weight="normal" fill="#4a4a4a" >58</text>
<text x="92" y="338.5" font-size="6.6" text-anchor="middle" font-weight="normal" fill="#4a4a4a" >+21%</text>
<text x="122.3" y="338.5" font-size="6.6" text-anchor="middle" font-weight="normal" fill="#4a4a4a" >–1; +42</text>
<text x="151.8" y="338.5" font-size="6.6" text-anchor="middle" font-weight="normal" fill="#4a4a4a" >.06</text>
<text x="181.9" y="338.5" font-size="6.6" text-anchor="middle" font-weight="normal" fill="#4a4a4a" >+20%</text>
<text x="211.2" y="338.5" font-size="6.6" text-anchor="middle" font-weight="normal" fill="#4a4a4a" >+2; +38</text>
<text x="241.2" y="338.5" font-size="6.6" text-anchor="middle" font-weight="normal" fill="#4a4a4a" >.03</text>
<text x="13.8" y="348.45" font-size="6.6" text-anchor="start" font-weight="normal" fill="#4a4a4a" >Platelets</text>
<text x="70.8" y="348.45" font-size="6.6" text-anchor="middle" font-weight="normal" fill="#4a4a4a" >58</text>
<text x="92" y="348.45" font-size="6.6" text-anchor="middle" font-weight="normal" fill="#4a4a4a" >–42%</text>
<text x="122.3" y="348.45" font-size="6.6" text-anchor="middle" font-weight="normal" fill="#4a4a4a" >–76; -7</text>
<text x="151.8" y="348.45" font-size="6.6" text-anchor="middle" font-weight="normal" fill="#4a4a4a" >.02</text>
<text x="181.9" y="348.45" font-size="6.6" text-anchor="middle" font-weight="normal" fill="#4a4a4a" >–28%</text>
<text x="211.2" y="348.45" font-size="6.6" text-anchor="middle" font-weight="normal" fill="#4a4a4a" >–63; +6</text>
<text x="241.2" y="348.45" font-size="6.6" text-anchor="middle" font-weight="normal" fill="#4a4a4a" >.10</text>
<text x="13.8" y="358.4" font-size="6.6" text-anchor="start" font-weight="normal" fill="#4a4a4a" >LDH</text>
<text x="70.8" y="358.4" font-size="6.6" text-anchor="middle" font-weight="normal" fill="#4a4a4a" >55</text>
<text x="92" y="358.4" font-size="6.6" text-anchor="middle" font-weight="normal" fill="#4a4a4a" >+47%</text>
<text x="122.3" y="358.4" font-size="6.6" text-anchor="middle" font-weight="normal" fill="#4a4a4a" >+14; +79</text>
<text x="151.8" y="358.4" font-size="6.6" text-anchor="middle" font-weight="normal" fill="#4a4a4a" >.006</text>
<text x="181.9" y="358.4" font-size="6.6" text-anchor="middle" font-weight="normal" fill="#4a4a4a" >+38%</text>
<text x="211.2" y="358.4" font-size="6.6" text-anchor="middle" font-weight="normal" fill="#4a4a4a" >+5; +71</text>
<text x="241.2" y="358.4" font-size="6.6" text-anchor="middle" font-weight="normal" fill="#4a4a4a" >.02</text>
<text x="13.8" y="368.35" font-size="6.6" text-anchor="start" font-weight="normal" fill="#4a4a4a" >Hb</text>
<text x="70.8" y="368.35" font-size="6.6" text-anchor="middle" font-weight="normal" fill="#4a4a4a" >57</text>
<text x="92" y="368.35" font-size="6.6" text-anchor="middle" font-weight="normal" fill="#4a4a4a" >–0.5</text>
<text x="122.3" y="368.35" font-size="6.6" text-anchor="middle" font-weight="normal" fill="#4a4a4a" >–1.6; +0.6</text>
<text x="151.8" y="368.35" font-size="6.6" text-anchor="middle" font-weight="normal" fill="#4a4a4a" >.38</text>
<text x="181.9" y="368.35" font-size="6.6" text-anchor="middle" font-weight="normal" fill="#4a4a4a" >+0.1</text>
<text x="211.2" y="368.35" font-size="6.6" text-anchor="middle" font-weight="normal" fill="#4a4a4a" >–0.7; +1.0</text>
<text x="241.2" y="368.35" font-size="6.6" text-anchor="middle" font-weight="normal" fill="#4a4a4a" >.78</text>
<line x1="267" y1="298.7" x2="513.7" y2="298.7" stroke="#444" stroke-width="1.1"/>
<line x1="267" y1="319.1" x2="513.7" y2="319.1" stroke="#444" stroke-width="1.1"/>
<line x1="267" y1="383.1" x2="513.7" y2="383.1" stroke="#555" stroke-width="1.3"/>
<text x="269.5" y="307.3" font-size="6.4" text-anchor="start" font-weight="bold" fill="#222" >End point</text>
<text x="345.5" y="307.3" font-size="6.4" text-anchor="middle" font-weight="bold" fill="#222" >N</text>
<text x="355.5" y="307.3" font-size="6.4" text-anchor="start" font-weight="bold" fill="#222" >Crude</text>
<text x="355.5" y="314.9" font-size="6.4" text-anchor="start" font-weight="bold" fill="#222" >estimate</text>
<text x="402.9" y="307.3" font-size="6.4" text-anchor="middle" font-weight="bold" fill="#222" >95% CI</text>
<text x="428.1" y="307.3" font-size="6.4" text-anchor="middle" font-weight="bold" fill="#222" font-style="italic">P</text>
<text x="435.5" y="307.3" font-size="6.4" text-anchor="start" font-weight="bold" fill="#222" >Adjusted</text>
<text x="436.2" y="314.9" font-size="6.4" text-anchor="start" font-weight="bold" fill="#222" >estimate</text>
<text x="482.9" y="307.3" font-size="6.4" text-anchor="middle" font-weight="bold" fill="#222" >95% CI</text>
<text x="504.8" y="307.3" font-size="6.4" text-anchor="middle" font-weight="bold" fill="#222" font-style="italic">P</text>
<text x="366.2" y="328.4" font-size="6.4" text-anchor="middle" font-weight="bold" fill="#222" >OR</text>
<text x="449.5" y="328.4" font-size="6.4" text-anchor="middle" font-weight="bold" fill="#222" >OR</text>
<text x="269.5" y="338.1" font-size="6.6" text-anchor="start" font-weight="normal" fill="#4a4a4a" >Systemic symptoms</text>
<text x="345.3" y="338.1" font-size="6.6" text-anchor="middle" font-weight="normal" fill="#4a4a4a" >45</text>
<text x="365.1" y="338.1" font-size="6.6" text-anchor="middle" font-weight="normal" fill="#4a4a4a" >2.37</text>
<text x="399.6" y="338.1" font-size="6.6" text-anchor="middle" font-weight="normal" fill="#4a4a4a" >0.75; 7.50</text>
<text x="426.5" y="338.1" font-size="6.6" text-anchor="middle" font-weight="normal" fill="#4a4a4a" >.14</text>
<text x="449.2" y="338.1" font-size="6.6" text-anchor="middle" font-weight="normal" fill="#4a4a4a" >1.94</text>
<text x="478.5" y="338.1" font-size="6.6" text-anchor="middle" font-weight="normal" fill="#4a4a4a" >0.58; 6.54</text>
<text x="502.1" y="338.1" font-size="6.6" text-anchor="middle" font-weight="normal" fill="#4a4a4a" >.28</text>
<text x="269.5" y="348.05" font-size="6.6" text-anchor="start" font-weight="normal" fill="#4a4a4a" >Neurological alterations</text>
<text x="345.3" y="348.05" font-size="6.6" text-anchor="middle" font-weight="normal" fill="#4a4a4a" >27</text>
<text x="365.1" y="348.05" font-size="6.6" text-anchor="middle" font-weight="normal" fill="#4a4a4a" >1.39</text>
<text x="399.6" y="348.05" font-size="6.6" text-anchor="middle" font-weight="normal" fill="#4a4a4a" >0.55; 3.54</text>
<text x="426.5" y="348.05" font-size="6.6" text-anchor="middle" font-weight="normal" fill="#4a4a4a" >.49</text>
<text x="449.2" y="348.05" font-size="6.6" text-anchor="middle" font-weight="normal" fill="#4a4a4a" >0.87</text>
<text x="478.5" y="348.05" font-size="6.6" text-anchor="middle" font-weight="normal" fill="#4a4a4a" >0.29; 2.61</text>
<text x="502.1" y="348.05" font-size="6.6" text-anchor="middle" font-weight="normal" fill="#4a4a4a" >.80</text>
<text x="269.5" y="358.0" font-size="6.6" text-anchor="start" font-weight="normal" fill="#4a4a4a" >Cardiac alterations</text>
<text x="345.3" y="358.0" font-size="6.6" text-anchor="middle" font-weight="normal" fill="#4a4a4a" >8</text>
<text x="365.1" y="358.0" font-size="6.6" text-anchor="middle" font-weight="normal" fill="#4a4a4a" >3.68</text>
<text x="399.6" y="358.0" font-size="6.6" text-anchor="middle" font-weight="normal" fill="#4a4a4a" >0.81; 16.6</text>
<text x="426.5" y="358.0" font-size="6.6" text-anchor="middle" font-weight="normal" fill="#4a4a4a" >.09</text>
<text x="449.2" y="358.0" font-size="6.6" text-anchor="middle" font-weight="normal" fill="#4a4a4a" >2.66</text>
<text x="478.5" y="358.0" font-size="6.6" text-anchor="middle" font-weight="normal" fill="#4a4a4a" >0.60; 11.8</text>
<text x="502.1" y="358.0" font-size="6.6" text-anchor="middle" font-weight="normal" fill="#4a4a4a" >.20</text>
<text x="269.5" y="367.95000000000005" font-size="6.6" text-anchor="start" font-weight="normal" fill="#4a4a4a" >Renal alterations</text>
<text x="345.3" y="367.95000000000005" font-size="6.6" text-anchor="middle" font-weight="normal" fill="#4a4a4a" >13</text>
<text x="365.1" y="367.95000000000005" font-size="6.6" text-anchor="middle" font-weight="normal" fill="#4a4a4a" >4.02</text>
<text x="399.6" y="367.95000000000005" font-size="6.6" text-anchor="middle" font-weight="normal" fill="#4a4a4a" >1.11; 14.6</text>
<text x="426.5" y="367.95000000000005" font-size="6.6" text-anchor="middle" font-weight="normal" fill="#4a4a4a" >.03</text>
<text x="449.2" y="367.95000000000005" font-size="6.6" text-anchor="middle" font-weight="normal" fill="#4a4a4a" >6.57</text>
<text x="478.5" y="367.95000000000005" font-size="6.6" text-anchor="middle" font-weight="normal" fill="#4a4a4a" >1.07; 40.4</text>
<text x="502.1" y="367.95000000000005" font-size="6.6" text-anchor="middle" font-weight="normal" fill="#4a4a4a" >.04</text>
<text x="269.5" y="377.90000000000003" font-size="6.6" text-anchor="start" font-weight="normal" fill="#4a4a4a" >Bleeding</text>
<text x="345.3" y="377.90000000000003" font-size="6.6" text-anchor="middle" font-weight="normal" fill="#4a4a4a" >41</text>
<text x="365.1" y="377.90000000000003" font-size="6.6" text-anchor="middle" font-weight="normal" fill="#4a4a4a" >0.85</text>
<text x="399.6" y="377.90000000000003" font-size="6.6" text-anchor="middle" font-weight="normal" fill="#4a4a4a" >0.31; 2.34</text>
<text x="426.5" y="377.90000000000003" font-size="6.6" text-anchor="middle" font-weight="normal" fill="#4a4a4a" >.75</text>
<text x="449.2" y="377.90000000000003" font-size="6.6" text-anchor="middle" font-weight="normal" fill="#4a4a4a" >1.14</text>
<text x="478.5" y="377.90000000000003" font-size="6.6" text-anchor="middle" font-weight="normal" fill="#4a4a4a" >0.37; 3.53</text>
<text x="502.1" y="377.90000000000003" font-size="6.6" text-anchor="middle" font-weight="normal" fill="#4a4a4a" >.82</text>
<rect x="0.5" y="0.5" width="519" height="390" fill="none" stroke="#5c5c5c" stroke-width="1"/>
</svg>
</body></html>
